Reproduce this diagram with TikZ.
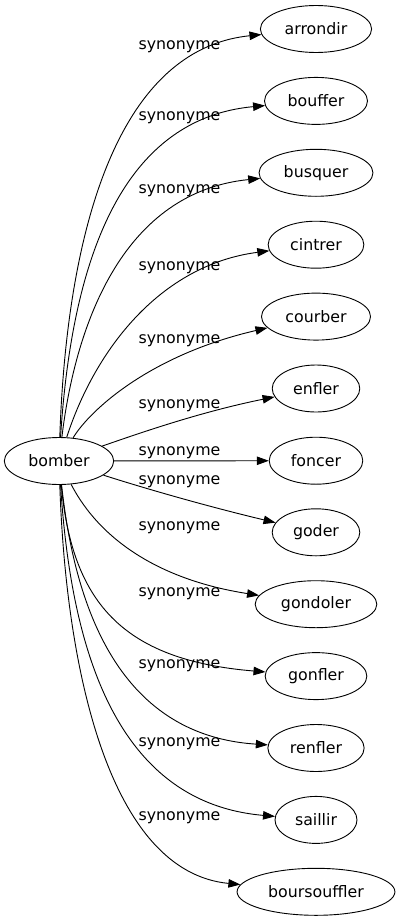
\documentclass[tikz,border=0pt]{standalone}
\usepackage{fontspec}
\setmainfont{DejaVu Sans}
\usetikzlibrary{shapes.geometric,arrows.meta}
\tikzset{
  word/.style={ellipse,draw,line width=0.9bp,inner xsep=8bp,inner ysep=2bp,minimum height=47bp,font=\fontsize{15.8bp}{18bp}\selectfont},
  lbl/.style={anchor=base,inner sep=0pt,font=\fontsize{15.8bp}{18bp}\selectfont},
  edge/.style={line width=0.9bp,-{Triangle[length=12bp,width=8.5bp]}}
}
\begin{document}
\begin{tikzpicture}[x=1bp,y=-1bp]
\useasboundingbox (0,0) rectangle (400,923);
\node[word] (bomber) at (59,461) {bomber};
\node[word] (arrondir) at (316,29) {arrondir};
\node[word] (bouffer) at (316,100.9) {bouffer};
\node[word] (busquer) at (316,172.8) {busquer};
\node[word] (cintrer) at (316,244.7) {cintrer};
\node[word] (courber) at (316,316.6) {courber};
\node[word] (enfler) at (316,388.5) {enfler};
\node[word] (foncer) at (316,460.7) {foncer};
\node[word] (goder) at (316,532.3) {goder};
\node[word] (gondoler) at (316,604.2) {gondoler};
\node[word] (gonfler) at (316,676.1) {gonfler};
\node[word] (renfler) at (316,748) {renfler};
\node[word] (saillir) at (316,819.9) {saillir};
\node[word] (boursouffler) at (316,891.8) {boursouffler};

\draw[edge] (bomber) .. controls (66,250) and (110,50) .. (arrondir);
\draw[edge] (bomber) .. controls (70,290) and (108,120) .. (bouffer);
\draw[edge] (bomber) .. controls (76,320) and (125,192) .. (busquer);
\draw[edge] (bomber) .. controls (95,350) and (160,265) .. (cintrer);
\draw[edge] (bomber) .. controls (90,410) and (150,355) .. (courber);
\draw[edge] (bomber) .. controls (140,433) and (200,412) .. (enfler);
\draw[edge] (bomber) -- (foncer);
\draw[edge] (bomber) .. controls (150,490) and (210,507) .. (goder);
\draw[edge] (bomber) .. controls (100,540) and (160,580) .. (gondoler);
\draw[edge] (bomber) .. controls (72,600) and (120,660) .. (gonfler);
\draw[edge] (bomber) .. controls (74,600) and (115,735) .. (renfler);
\draw[edge] (bomber) .. controls (70,632) and (108,802) .. (saillir);
\draw[edge] (bomber) .. controls (66,672) and (110,872) .. (boursouffler);

\node[lbl] (l1) at (179.5,49.5) {synonyme};
\node[lbl] (l2) at (179.5,120.5) {synonyme};
\node[lbl] (l3) at (179.5,193.5) {synonyme};
\node[lbl] (l4) at (179.5,270.5) {synonyme};
\node[lbl] (l5) at (179.5,343.5) {synonyme};
\node[lbl] (l6) at (179.5,408.5) {synonyme};
\node[lbl] (l7) at (179.5,455.7) {synonyme};
\node[lbl] (l8) at (179.5,484) {synonyme};
\node[lbl] (l9) at (179.5,530.5) {synonyme};
\node[lbl] (l10) at (179.5,596.5) {synonyme};
\node[lbl] (l11) at (179.5,668.5) {synonyme};
\node[lbl] (l12) at (179.5,746.5) {synonyme};
\node[lbl] (l13) at (179.5,820.5) {synonyme};
\end{tikzpicture}
\end{document}
